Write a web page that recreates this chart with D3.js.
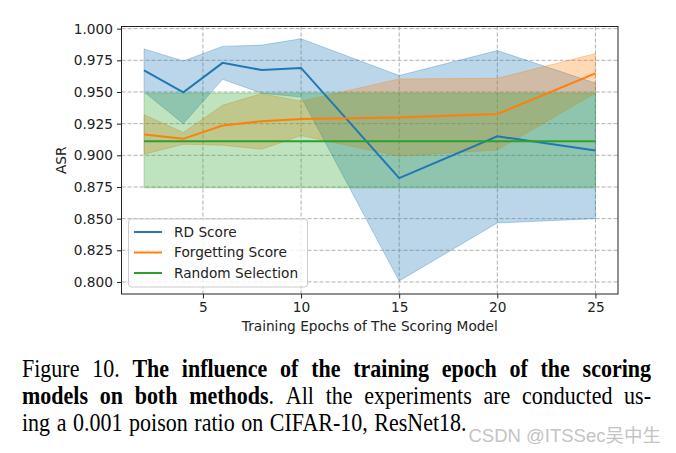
<!DOCTYPE html>
<html>
<head>
<meta charset="utf-8">
<script src="https://cdn.jsdelivr.net/npm/d3@7"></script>
<style>
  body { margin: 0; background: #fff; }
  svg { display: block; }
</style>
</head>
<body>
<svg id="chart" width="676" height="453"></svg>
<script>
const width = 676, height = 453;

// epochs of the scoring model
const epochs = [2, 4, 6, 8, 10, 15, 20, 25];

const rdMean  = [0.967, 0.9497, 0.973, 0.9673, 0.969, 0.882, 0.915, 0.9038];
const rdUpper = [0.984, 0.9745, 0.986, 0.987, 0.992, 0.963, 0.9827, 0.957];
const rdLower = [0.950, 0.925, 0.960, 0.949, 0.946, 0.8008, 0.8466, 0.850];

const fgMean  = [0.9164, 0.913, 0.9235, 0.9269, 0.9287, 0.9298, 0.9326, 0.9647];
const fgUpper = [0.9321, 0.918, 0.9395, 0.9487, 0.9427, 0.9603, 0.9608, 0.9803];
const fgLower = [0.9008, 0.9087, 0.908, 0.9048, 0.9156, 0.8993, 0.9042, 0.949];

const rsMean  = [0.9112, 0.9112, 0.9112, 0.9112, 0.9112, 0.9112, 0.9112, 0.9112];
const rsUpper = [0.9492, 0.9492, 0.9492, 0.9492, 0.9492, 0.9492, 0.9492, 0.9492];
const rsLower = [0.8743, 0.8743, 0.8743, 0.8743, 0.8743, 0.8743, 0.8743, 0.8743];

const seriesNames = ["RD Score", "Forgetting Score", "Random Selection"];
const colors = ["#1f77b4", "#ff7f0e", "#2ca02c"];

const xTicks = [5, 10, 15, 20, 25];
const yTicks = [0.800, 0.825, 0.850, 0.875, 0.900, 0.925, 0.950, 0.975, 1.000];

const series = [
  { name: seriesNames[0], mean: rdMean, upper: rdUpper, lower: rdLower, color: colors[0] },
  { name: seriesNames[1], mean: fgMean, upper: fgUpper, lower: fgLower, color: colors[1] },
  { name: seriesNames[2], mean: rsMean, upper: rsUpper, lower: rsLower, color: colors[2] }
];

const plot = { left: 121.5, right: 618, top: 26.5, bottom: 294 };
const tickFont = "13.7px 'DejaVu Sans'";

const svg = d3.select("#chart");
svg.append("rect").attr("width", width).attr("height", height).attr("fill", "#fff");

const x = d3.scaleLinear().domain([0.85, 26.15]).range([plot.left, plot.right]);
const y = d3.scaleLinear().domain([0.7905, 1.0017]).range([plot.bottom, plot.top]);

// --- grid ---
const grid = svg.append("g");
grid.selectAll("line.gx")
  .data(xTicks)
  .enter()
  .append("line")
  .attr("x1", d => x(d)).attr("x2", d => x(d))
  .attr("y1", plot.top).attr("y2", plot.bottom)
  .attr("stroke", "#b0b0b0")
  .attr("stroke-width", 1)
  .attr("stroke-dasharray", "4,2");
grid.selectAll("line.gy")
  .data(yTicks)
  .enter()
  .append("line")
  .attr("x1", plot.left).attr("x2", plot.right)
  .attr("y1", d => y(d)).attr("y2", d => y(d))
  .attr("stroke", "#b0b0b0")
  .attr("stroke-width", 1)
  .attr("stroke-dasharray", "4,2");

// --- bands then lines ---
const area = d3.area()
  .x((d, i) => x(epochs[i]))
  .y0(d => y(d[0]))
  .y1(d => y(d[1]));
const line = d3.line()
  .x((d, i) => x(epochs[i]))
  .y(d => y(d));

svg.append("g").selectAll("path")
  .data(series)
  .enter()
  .append("path")
  .attr("d", s => area(s.lower.map((v, i) => [v, s.upper[i]])))
  .attr("fill", s => s.color)
  .attr("fill-opacity", 0.3)
  .attr("stroke", s => s.color)
  .attr("stroke-opacity", 0.3)
  .attr("stroke-width", 1);

svg.append("g").selectAll("path")
  .data(series)
  .enter()
  .append("path")
  .attr("d", s => line(s.mean))
  .attr("fill", "none")
  .attr("stroke", s => s.color)
  .attr("stroke-width", 2);

// --- axes ---
const xAxis = svg.append("g")
  .attr("transform", `translate(0,${plot.bottom})`)
  .call(d3.axisBottom(x).tickValues(xTicks).tickSize(4.5).tickPadding(4).tickFormat(d3.format("d")));
const yAxis = svg.append("g")
  .attr("transform", `translate(${plot.left},0)`)
  .call(d3.axisLeft(y).tickValues(yTicks).tickSize(4.5).tickPadding(4).tickFormat(d3.format(".3f")));
[xAxis, yAxis].forEach(a => {
  a.select(".domain").remove();
  a.selectAll("line").attr("stroke", "#222").attr("stroke-width", 1);
  a.selectAll("text").style("font", tickFont).attr("fill", "#222");
});

svg.append("rect")
  .attr("x", plot.left).attr("y", plot.top)
  .attr("width", plot.right - plot.left).attr("height", plot.bottom - plot.top)
  .attr("fill", "none").attr("stroke", "#222").attr("stroke-width", 1);

svg.append("text")
  .attr("x", (plot.left + plot.right) / 2).attr("y", 331)
  .attr("text-anchor", "middle")
  .style("font", tickFont).attr("fill", "#222")
  .text("Training Epochs of The Scoring Model");

svg.append("text")
  .attr("transform", `translate(66,${(plot.top + plot.bottom) / 2}) rotate(-90)`)
  .attr("text-anchor", "middle")
  .style("font", tickFont).attr("fill", "#222")
  .text("ASR");

// --- legend ---
const legend = svg.append("g");
legend.append("rect")
  .attr("x", 128.5).attr("y", 219).attr("width", 179).attr("height", 68)
  .attr("rx", 3)
  .attr("fill", "#fff").attr("fill-opacity", 0.8)
  .attr("stroke", "#cccccc").attr("stroke-width", 1);
const items = legend.selectAll("g.item")
  .data(series)
  .enter()
  .append("g")
  .attr("transform", (d, i) => `translate(0,${232 + i * 20.5})`);
items.append("line")
  .attr("x1", 134).attr("x2", 162)
  .attr("stroke", d => d.color).attr("stroke-width", 2);
items.append("text")
  .attr("x", 174).attr("dy", "0.35em")
  .style("font", tickFont).attr("fill", "#222")
  .text(d => d.name);

// --- caption (glyphs a bit taller than wide, as in the scanned figure) ---
const capFont = "'Liberation Serif', 'Times New Roman', serif";
const capSize = 22;
const capStretch = 1.15;
const capLines = [
  [[["Figure", 0]], [["10.", 0]], [["The", 1]], [["influence", 1]], [["of", 1]], [["the", 1]],
   [["training", 1]], [["epoch", 1]], [["of", 1]], [["the", 1]], [["scoring", 1]]],
  [[["models", 1]], [["on", 1]], [["both", 1]], [["methods", 1], [".", 0]], [["All", 0]], [["the", 0]],
   [["experiments", 0]], [["are", 0]], [["conducted", 0]], [["us-", 0]]],
  [[["ing", 0]], [["a", 0]], [["0.001", 0]], [["poison", 0]], [["ratio", 0]], [["on", 0]],
   [["CIFAR-10,", 0]], [["ResNet18.", 0]]]
];
const capBase = [377, 404, 431];
const capLeft = 22, capRight = 651;
capLines.forEach((words, li) => {
  const row = svg.append("g")
    .attr("transform", `translate(0,${capBase[li]}) scale(1,${capStretch})`);
  const nodes = words.map(w => {
    const t = row.append("text")
      .style("font-family", capFont)
      .style("font-size", capSize + "px")
      .attr("fill", "#000");
    w.forEach(p => t.append("tspan").style("font-weight", p[1] ? "bold" : "normal").text(p[0]));
    return t;
  });
  const widths = nodes.map(n => n.node().getComputedTextLength());
  const total = d3.sum(widths);
  const gap = li < 2 ? (capRight - capLeft - total) / (nodes.length - 1) : capSize * 0.3;
  let cx = capLeft;
  nodes.forEach((n, i) => { n.attr("x", cx); cx += widths[i] + gap; });
});

// watermark
svg.append("text")
  .attr("x", 661).attr("y", 442)
  .attr("text-anchor", "end")
  .style("font-family", "'Liberation Sans', 'Noto Sans CJK SC', sans-serif")
  .style("font-size", "18.5px")
  .attr("fill", "#c4c4c4")
  .text("CSDN @ITSSec吴中生");
</script>
</body>
</html>
